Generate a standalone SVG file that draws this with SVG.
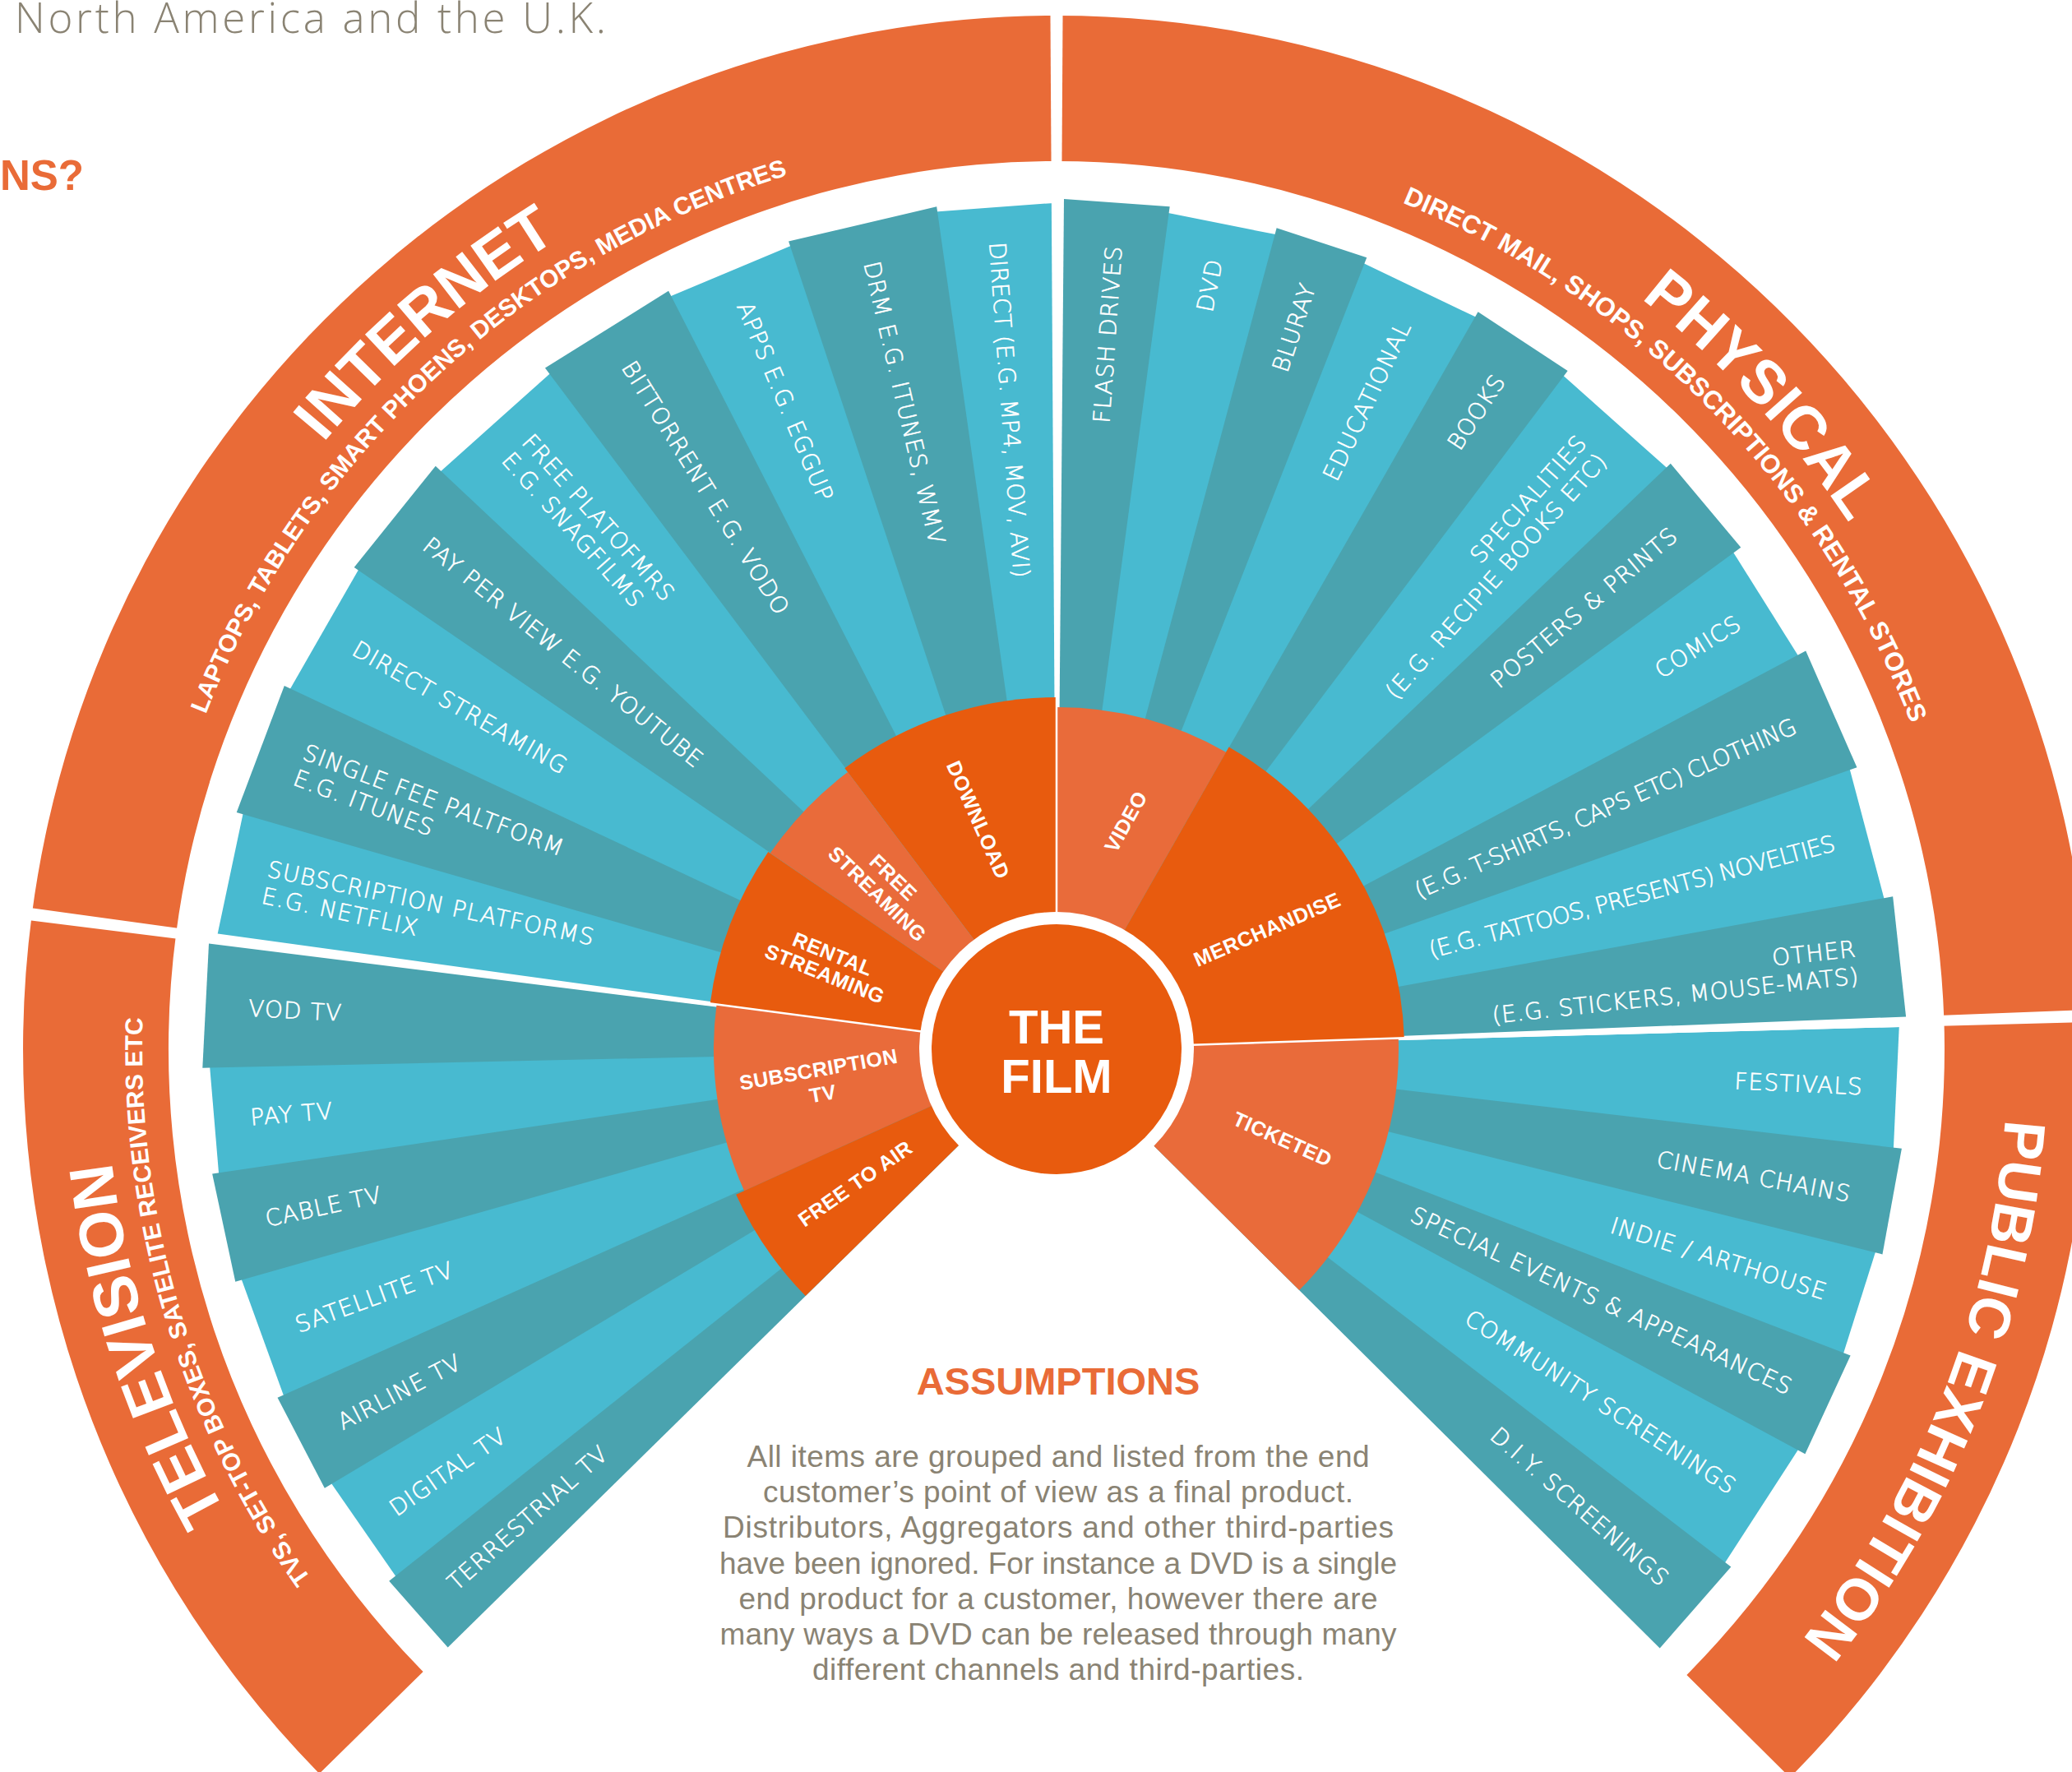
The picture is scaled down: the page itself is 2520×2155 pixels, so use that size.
<svg xmlns="http://www.w3.org/2000/svg" width="2520" height="2155" viewBox="0 0 2520 2155">
<defs>
<path id="arcT" d="M1285,119 A1157,1157 0 1 1 1285,2433 A1157,1157 0 1 1 1285,119"/>
<path id="arcS" d="M1285,164 A1112,1112 0 1 1 1285,2388 A1112,1112 0 1 1 1285,164"/>
</defs>
<style>
.band{fill:#E96B37}
.L{fill:#48BAD0}
.D{fill:#4AA3AF}
.m1{fill:#E85B0E}
.m2{fill:#E96B3A}
.lb{font-family:"DejaVu Sans","Liberation Sans",sans-serif;font-weight:200;font-size:28px;fill:#fff;stroke:#fff;stroke-width:0.6px;letter-spacing:1.1px}
.e{text-anchor:end}
.mid{font-family:"Liberation Sans",Arial,sans-serif;font-weight:700;font-size:25px;fill:#fff;text-anchor:middle;letter-spacing:0.5px}
.ttl{font-family:"Liberation Sans",Arial,sans-serif;font-weight:700;font-size:76px;fill:#fff;text-anchor:middle}
.sub{font-family:"Liberation Sans",Arial,sans-serif;font-weight:700;font-size:30px;fill:#fff;text-anchor:middle}
.para{font-family:"Liberation Sans",Arial,sans-serif;font-size:37px;fill:#8A8373;text-anchor:middle}
.film{font-family:"Liberation Sans",Arial,sans-serif;font-weight:700;font-size:58px;fill:#fff;text-anchor:middle}
</style>
<rect width="2520" height="2155" fill="#fff"/>

<g id="header">
<text x="18" y="40" textLength="719" style="font-family:'Open Sans','Liberation Sans',sans-serif;font-weight:300;font-size:51px;fill:#8A8373">North America and the U.K.</text>
<text x="0" y="231" style="font-family:'Liberation Sans',Arial,sans-serif;font-weight:700;font-size:51px;fill:#E96B37">NS?</text>
</g>

<g id="band-television">
<path class="band" d="M388.4,2157 A1257,1257 0 0 1 38.8,1111.9 L214.2,1135 A1080,1080 0 0 0 514.6,2033 Z"/>
<text class="ttl"><textPath href="#arcT" startOffset="70%">TELEVISION</textPath></text>
<text class="sub"><textPath href="#arcS" startOffset="70.36%">TVS, SET-TOP BOXES, SATELITE RECEIVERS ETC</textPath></text>
</g>
<g id="band-internet">
<path class="band" d="M38.8,1111.9 A1257,1257 0 0 1 1285,19 L1285,196 A1080,1080 0 0 0 214.2,1135 Z"/>
<text class="ttl"><textPath href="#arcT" startOffset="88.61%">INTERNET</textPath></text>
<text class="sub"><textPath href="#arcS" startOffset="88.11%">LAPTOPS, TABLETS, SMART PHOENS, DESKTOPS, MEDIA CENTRES</textPath></text>
</g>
<g id="band-physical">
<path class="band" d="M1285,19 A1257,1257 0 0 1 2541.3,1235.4 L2364.4,1241.1 A1080,1080 0 0 0 1285,196 Z"/>
<text class="ttl" style="font-size:74px"><textPath href="#arcT" startOffset="13.1%">PHYSICAL</textPath></text>
<text class="sub" style="font-size:31.5px"><textPath href="#arcS" startOffset="12.69%">DIRECT MAIL, SHOPS, SUBSCRIPTIONS &amp; RENTAL STORES</textPath></text>
</g>
<g id="band-public-exhibition">
<path class="band" d="M2541.3,1235.4 A1257,1257 0 0 1 2177,2161.7 L2051.4,2037 A1080,1080 0 0 0 2364.4,1241.1 Z"/>
<text class="ttl" style="font-size:71px"><textPath href="#arcT" startOffset="30.92%">PUBLIC EXHIBITION</textPath></text>
</g>

<!-- light bars -->
<g id="bar-subscription-platforms" transform="translate(1285 1276) rotate(191.95)"><polygon class="L" points="0,0 1027.3,-76.5 1027.3,76.5"/><text class="lb" transform="rotate(180)" x="-984" y="-6.5">SUBSCRIPTION PLATFORMS</text><text class="lb" transform="rotate(180)" x="-984" y="26.5">E.G. NETFLIX</text></g>
<g id="bar-direct-streaming" transform="translate(1285 1276) rotate(209.825)"><polygon class="L" points="0,0 1026.6,-85 1026.6,85"/><text class="lb" transform="rotate(180)" x="-984" y="10">DIRECT STREAMING</text></g>
<g id="bar-free-platforms" transform="translate(1285 1276) rotate(228.15)"><polygon class="L" points="0,0 1023.2,-90.6 1023.2,90.6"/><text class="lb" transform="rotate(180)" x="-984" y="-6.5">FREE PLATOFMRS</text><text class="lb" transform="rotate(180)" x="-984" y="26.5">E.G. SNAGFILMS</text></g>
<g id="bar-apps" transform="translate(1285 1276) rotate(247.275)"><polygon class="L" points="0,0 1026,-80.5 1026,80.5"/><text class="lb" transform="rotate(180)" x="-984" y="10">APPS E.G. EGGUP</text></g>
<g id="bar-direct" transform="translate(1285 1276) rotate(265.8)"><polygon class="L" points="0,0 1026.6,-72 1026.6,72"/><text class="lb" transform="rotate(180)" x="-984" y="10" textLength="410">DIRECT (E.G. MP4, MOV, AVI)</text></g>
<g id="bar-digital-tv" transform="translate(1285 1276) rotate(145.25)"><polygon class="L" points="0,0 1025.7,-70.1 1025.7,70.1"/><text class="lb" transform="rotate(180)" x="-984" y="10">DIGITAL TV</text></g>
<g id="bar-satellite-tv" transform="translate(1285 1276) rotate(160.05)"><polygon class="L" points="0,0 1027.3,-76.5 1027.3,76.5"/><text class="lb" transform="rotate(180)" x="-984" y="10">SATELLITE TV</text></g>
<g id="bar-pay-tv" transform="translate(1285 1276) rotate(175.175)"><polygon class="L" points="0,0 1028,-66.2 1028,66.2"/><text class="lb" transform="rotate(180)" x="-984" y="10">PAY TV</text></g>
<g id="bar-dvd" transform="translate(1285 1276) rotate(-78.675)"><polygon class="L" points="0,0 1023.9,-67.8 1023.9,67.8"/><text class="lb e" x="980" y="10">DVD</text></g>
<g id="bar-educational" transform="translate(1285 1276) rotate(-64.425)"><polygon class="L" points="0,0 1023.3,-76.7 1023.3,76.7"/><text class="lb e" x="980" y="10">EDUCATIONAL</text></g>
<g id="bar-specialities" transform="translate(1285 1276) rotate(-48.325)"><polygon class="L" points="0,0 1021.6,-85.5 1021.6,85.5"/><text class="lb e" x="980" y="-6.5">SPECIALITIES</text><text class="lb e" x="980" y="26.5" textLength="389">(E.G. RECIPIE BOOKS ETC)</text></g>
<g id="bar-comics" transform="translate(1285 1276) rotate(-32.125)"><polygon class="L" points="0,0 1018.4,-75.5 1018.4,75.5"/><text class="lb e" x="980" y="10">COMICS</text></g>
<g id="bar-novelties" transform="translate(1285 1276) rotate(-14.875)"><polygon class="L" points="0,0 1019.8,-82.7 1019.8,82.7"/><text class="lb e" x="980" y="10" textLength="511">(E.G. TATTOOS, PRESENTS) NOVELTIES</text></g>
<g id="bar-festivals" transform="translate(1285 1276) rotate(2.65)"><polygon class="L" points="0,0 1022.4,-74.4 1022.4,74.4"/><text class="lb e" x="982" y="10">FESTIVALS</text></g>
<g id="bar-indie" transform="translate(1285 1276) rotate(17.525)"><polygon class="L" points="0,0 1024,-66 1024,66"/><text class="lb e" x="982" y="10">INDIE / ARTHOUSE</text></g>
<g id="bar-community" transform="translate(1285 1276) rotate(32.95)"><polygon class="L" points="0,0 1021.8,-83.3 1021.8,83.3"/><text class="lb e" x="982" y="10">COMMUNITY SCREENINGS</text></g>

<!-- dark bars -->
<g id="bar-single-fee" transform="translate(1285 1276) rotate(200.65)"><polygon class="D" points="0,0 1034.7,-82.3 1034.7,82.3"/><text class="lb" transform="rotate(180)" x="-984" y="-6.5">SINGLE FEE PALTFORM</text><text class="lb" transform="rotate(180)" x="-984" y="26.5">E.G. ITUNES</text></g>
<g id="bar-pay-per-view" transform="translate(1285 1276) rotate(218.825)"><polygon class="D" points="0,0 1033,-79 1033,79"/><text class="lb" transform="rotate(180)" x="-984" y="10">PAY PER VIEW E.G. YOUTUBE</text></g>
<g id="bar-bittorrent" transform="translate(1285 1276) rotate(238)"><polygon class="D" points="0,0 1032.2,-88.5 1032.2,88.5"/><text class="lb" transform="rotate(180)" x="-984" y="10">BITTORRENT E.G. VODO</text></g>
<g id="bar-drm" transform="translate(1285 1276) rotate(256.775)"><polygon class="D" points="0,0 1030.9,-92.5 1030.9,92.5"/><text class="lb" transform="rotate(180)" x="-984" y="10">DRM E.G. ITUNES, WMV</text></g>
<g id="bar-terrestrial-tv" transform="translate(1285 1276) rotate(138.475)"><polygon class="D" points="0,0 1036.6,-53.9 1036.6,53.9"/><text class="lb" transform="rotate(180)" x="-984" y="10">TERRESTRIAL TV</text></g>
<g id="bar-airline-tv" transform="translate(1285 1276) rotate(152.475)"><polygon class="D" points="0,0 1036.1,-62 1036.1,62"/><text class="lb" transform="rotate(180)" x="-984" y="10">AIRLINE TV</text></g>
<g id="bar-cable-tv" transform="translate(1285 1276) rotate(167.9)"><polygon class="D" points="0,0 1035.8,-67 1035.8,67"/><text class="lb" transform="rotate(180)" x="-984" y="10">CABLE TV</text></g>
<g id="bar-vod-tv" transform="translate(1285 1276) rotate(182.925)"><polygon class="D" points="0,0 1036.2,-75.6 1036.2,75.6"/><text class="lb" transform="rotate(180)" x="-984" y="10">VOD TV</text></g>
<g id="bar-flash-drives" transform="translate(1285 1276) rotate(-85.925)"><polygon class="D" points="0,0 1032,-64.5 1032,64.5"/><text class="lb e" x="980" y="10">FLASH DRIVES</text></g>
<g id="bar-bluray" transform="translate(1285 1276) rotate(-71.8)"><polygon class="D" points="0,0 1032.4,-57.7 1032.4,57.7"/><text class="lb e" x="980" y="10">BLURAY</text></g>
<g id="bar-books" transform="translate(1285 1276) rotate(-56.625)"><polygon class="D" points="0,0 1030.9,-65.3 1030.9,65.3"/><text class="lb e" x="980" y="10">BOOKS</text></g>
<g id="bar-posters" transform="translate(1285 1276) rotate(-39.95)"><polygon class="D" points="0,0 1029.9,-66.6 1029.9,66.6"/><text class="lb e" x="980" y="10">POSTERS &amp; PRINTS</text></g>
<g id="bar-clothing" transform="translate(1285 1276) rotate(-23.7)"><polygon class="D" points="0,0 1029.1,-77.4 1029.1,77.4"/><text class="lb e" x="982" y="10" textLength="505">(E.G. T-SHIRTS, CAPS ETC) CLOTHING</text></g>
<g id="bar-other" transform="translate(1285 1276) rotate(-6.225)"><polygon class="D" points="0,0 1031.3,-74.4 1031.3,74.4"/><text class="lb e" x="980" y="-6.5">OTHER</text><text class="lb e" x="980" y="26.5" textLength="449">(E.G. STICKERS, MOUSE-MATS)</text></g>
<g id="bar-cinema-chains" transform="translate(1285 1276) rotate(10.325)"><polygon class="D" points="0,0 1032.9,-65.4 1032.9,65.4"/><text class="lb e" x="982" y="10">CINEMA CHAINS</text></g>
<g id="bar-special-events" transform="translate(1285 1276) rotate(24.75)"><polygon class="D" points="0,0 1032.9,-65.9 1032.9,65.9"/><text class="lb e" x="984" y="10">SPECIAL EVENTS &amp; APPEARANCES</text></g>
<g id="bar-diy" transform="translate(1285 1276) rotate(41.15)"><polygon class="D" points="0,0 1031.9,-65.8 1031.9,65.8"/><text class="lb e" x="984" y="10">D.I.Y. SCREENINGS</text></g>

<g id="gaps" fill="#fff">
<polygon points="0,0 1320,-7.9 1320,7.9" transform="translate(1285 1276) rotate(-90)"/>
<polygon points="0,0 1320,-7.9 1320,7.9" transform="translate(1285 1276) rotate(-1.85)"/>
<polygon points="0,0 1320,-7.9 1320,7.9" transform="translate(1285 1276) rotate(187.5)"/>
</g>

<g id="cat-download"><path class="m1" d="M1285,1276 L1027.4,934.2 A428,428 0 0 1 1285,848 Z"/><text class="mid" transform="translate(1190 997) rotate(66)" y="9">DOWNLOAD</text></g>
<g id="cat-free-streaming"><path class="m2" d="M1285,1276 L936.8,1037.6 A422,422 0 0 1 1031,939 Z"/><g transform="translate(1077 1077) rotate(44)"><text class="mid" y="-5">FREE</text><text class="mid" y="23">STREAMING</text></g></g>
<g id="cat-rental-streaming"><path class="m1" d="M1285,1276 L863.6,1220.9 A425,425 0 0 1 934.3,1035.9 Z"/><g transform="translate(1008 1172) rotate(22)"><text class="mid" y="-4">RENTAL</text><text class="mid" y="22">STREAMING</text></g></g>
<g id="cat-subscription-tv"><path class="m2" d="M1285,1276 L905.2,1448.3 A417,417 0 0 1 871.5,1221.9 Z"/><g transform="translate(998 1315) rotate(-10)"><text class="mid" y="-6">SUBSCRIPTION</text><text class="mid" y="24">TV</text></g></g>
<g id="cat-free-to-air"><path class="m1" d="M1285,1276 L979.7,1576 A428,428 0 0 1 895.2,1452.8 Z"/><text class="mid" transform="translate(1040 1439) rotate(-35)" y="9">FREE TO AIR</text></g>
<g id="cat-video"><path class="m2" d="M1285,1276 L1285,860 A416,416 0 0 1 1491.1,914.7 Z"/><text class="mid" transform="translate(1369 999) rotate(-61)" y="9">VIDEO</text></g>
<g id="cat-merchandise"><path class="m1" d="M1285,1276 L1494.6,908.6 A423,423 0 0 1 1707.8,1262.7 Z"/><text class="mid" transform="translate(1541 1130) rotate(-23.3)" y="9">MERCHANDISE</text></g>
<g id="cat-ticketed"><path class="m2" d="M1285,1276 L1700.8,1262.9 A416,416 0 0 1 1580.2,1569.1 Z"/><text class="mid" transform="translate(1560 1385) rotate(24)" y="9">TICKETED</text></g>

<g id="connectors" stroke="#fff" stroke-width="2.5">
<line x1="150" y1="0" x2="432" y2="0" transform="translate(1285 1276) rotate(-90)"/>
<line x1="150" y1="0" x2="432" y2="0" transform="translate(1285 1276) rotate(-1.85)"/>
<line x1="150" y1="0" x2="432" y2="0" transform="translate(1285 1276) rotate(187.5)"/>
</g>

<g id="film">
<circle cx="1285" cy="1276" r="167" fill="#fff"/>
<circle cx="1285" cy="1276" r="152" class="m1"/>
<text class="film" x="1285" y="1269">THE</text>
<text class="film" x="1285" y="1329">FILM</text>
</g>

<g id="assumptions">
<text x="1287" y="1696" style="font-family:'Liberation Sans',Arial,sans-serif;font-weight:700;font-size:47px;fill:#E96B37;text-anchor:middle">ASSUMPTIONS</text>
<text class="para" x="1287" y="1784" textLength="757">All items are grouped and listed from the end</text>
<text class="para" x="1287" y="1827" textLength="718">customer’s point of view as a final product.</text>
<text class="para" x="1287" y="1870" textLength="816">Distributors, Aggregators and other third-parties</text>
<text class="para" x="1287" y="1914" textLength="824">have been ignored. For instance a DVD is a single</text>
<text class="para" x="1287" y="1957" textLength="777">end product for a customer, however there are</text>
<text class="para" x="1287" y="2000" textLength="823">many ways a DVD can be released through many</text>
<text class="para" x="1287" y="2043" textLength="598">different channels and third-parties.</text>
</g>
</svg>
